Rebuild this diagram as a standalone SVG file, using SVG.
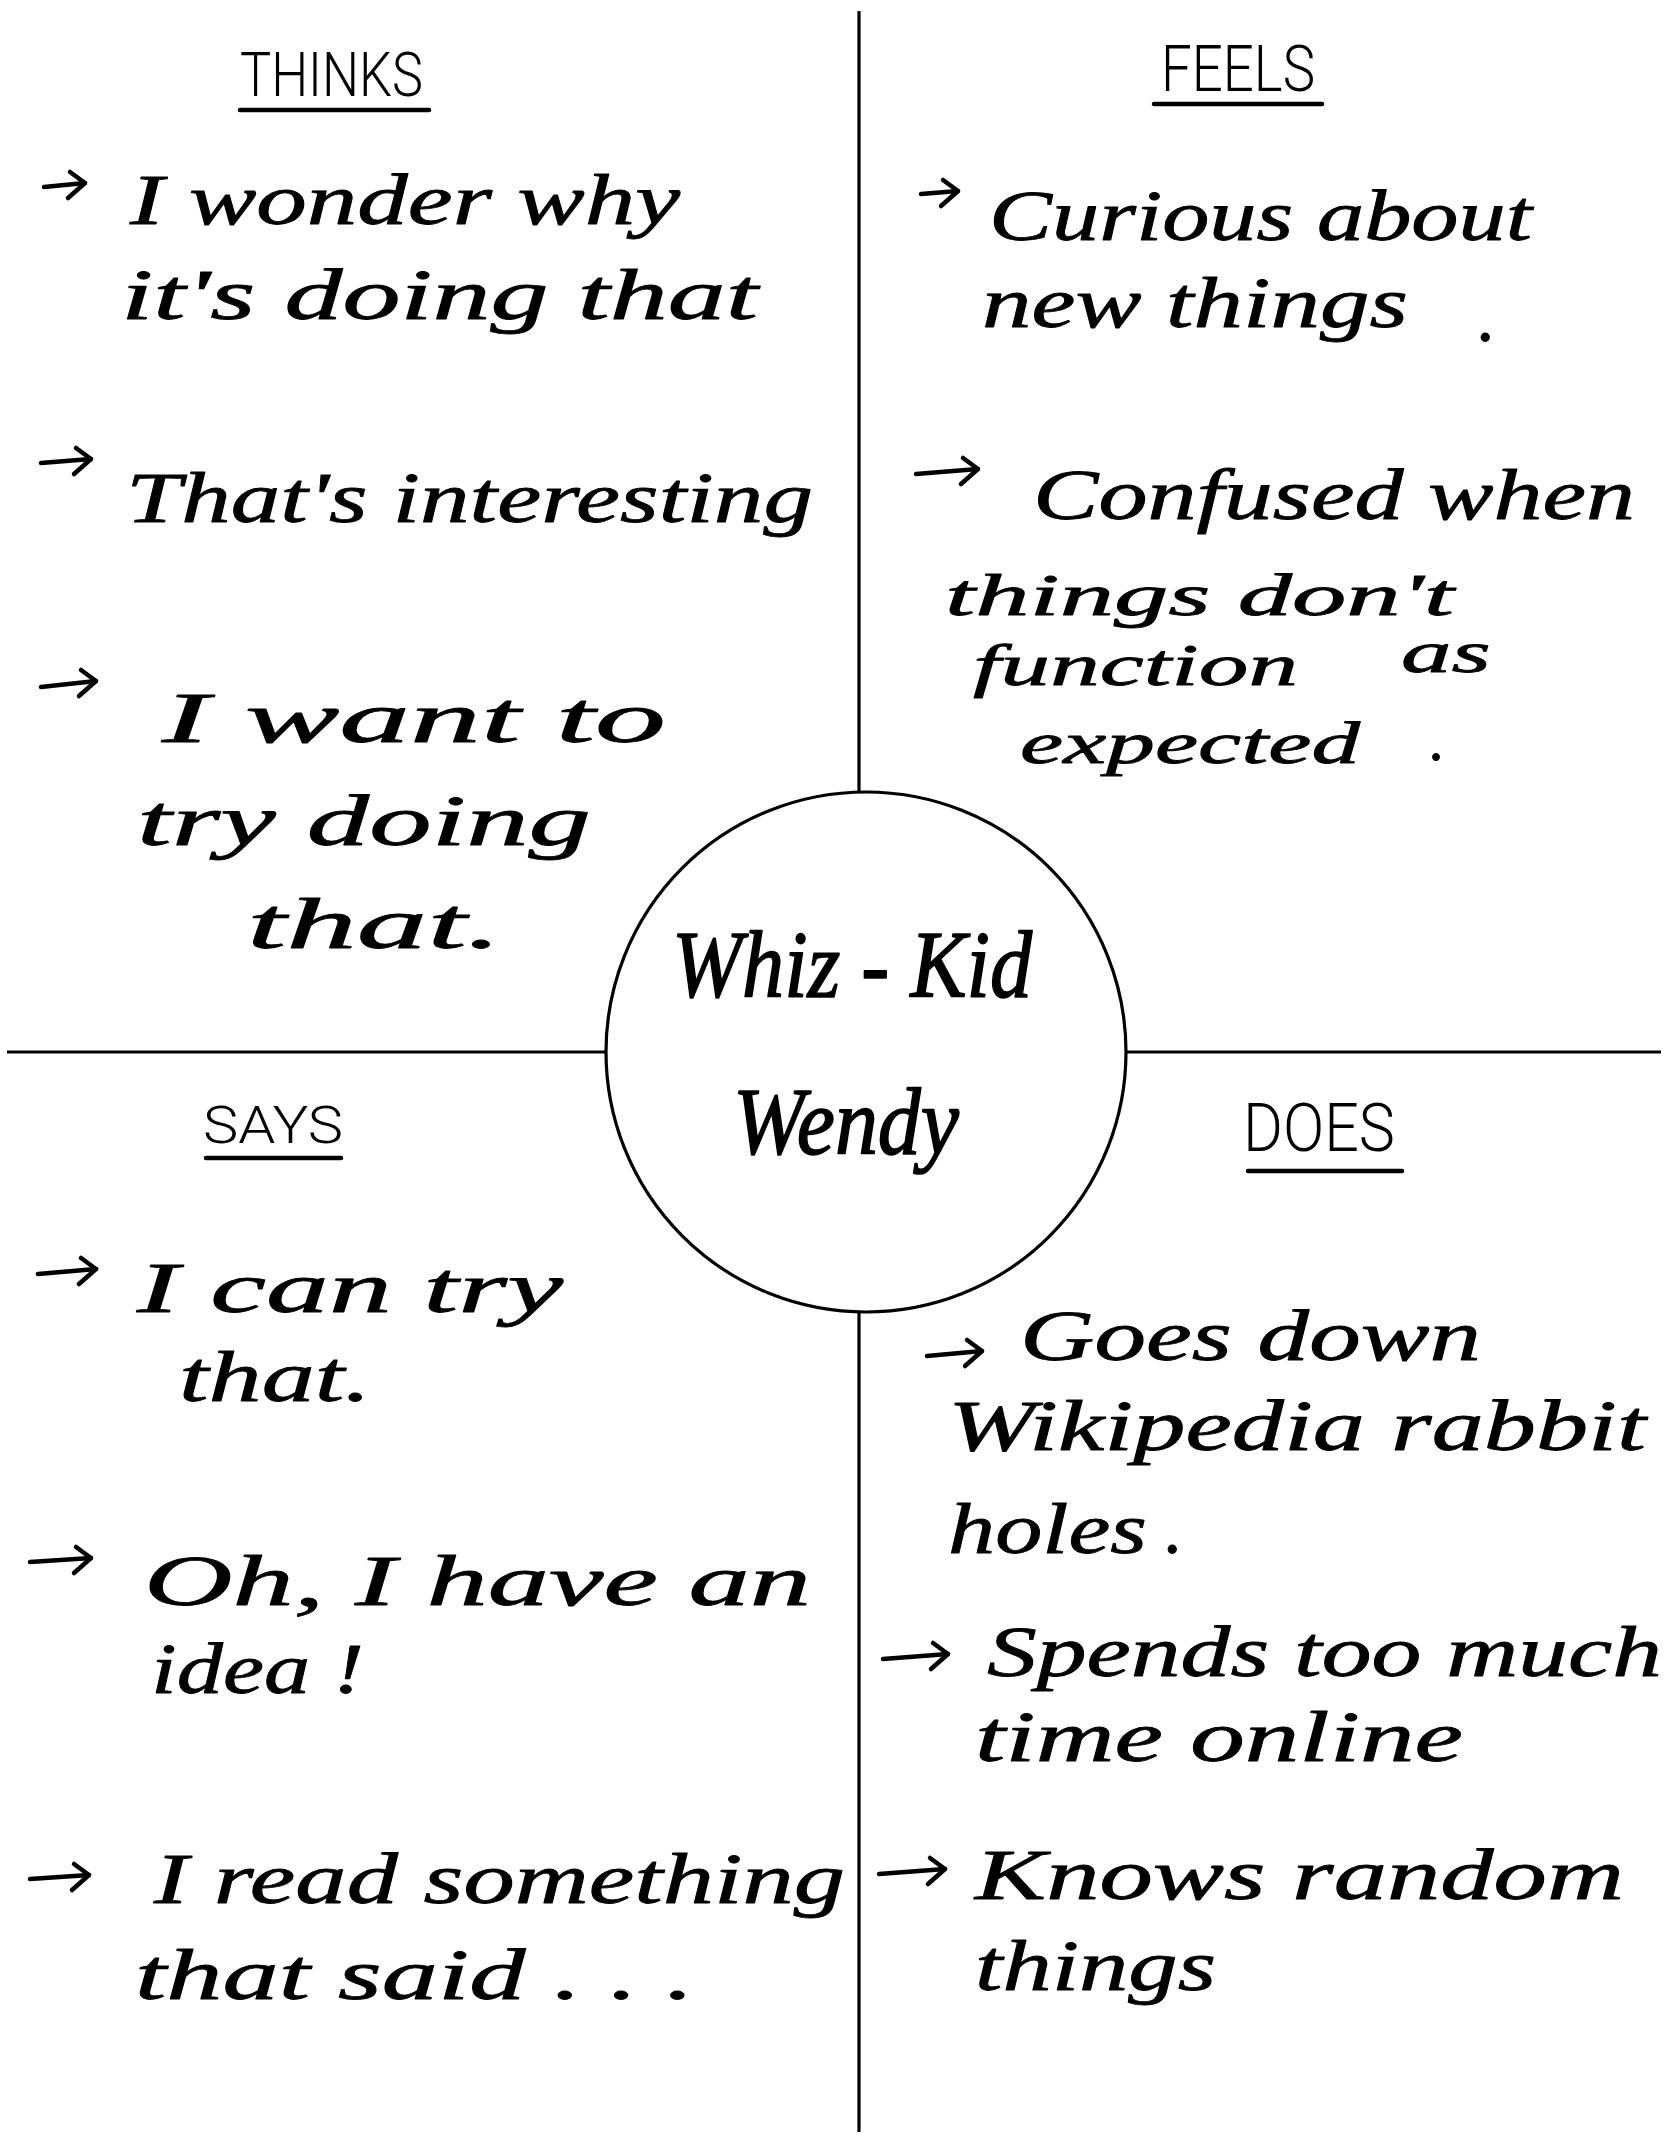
<svg xmlns="http://www.w3.org/2000/svg" width="1668" height="2154" viewBox="0 0 1668 2154">
  <style>
    .hand { font-family: "Liberation Serif", "DejaVu Serif", serif; font-style: italic; font-size: 72px; fill: #000; stroke: #000; stroke-width: 0.8; stroke-linejoin: round; }
    .tight { font-size: 60px; }
    .center { font-size: 96px; stroke-width: 1.6; }
    .head { font-family: Roboto, "DejaVu Sans", sans-serif; font-weight: 300; fill: #000; }
    .rule { stroke: #000; stroke-width: 3.2; fill: none; }
    .uline { stroke: #000; stroke-width: 4.5; stroke-linecap: round; }
    .bullet { stroke: #000; stroke-width: 4.5; fill: none; stroke-linecap: round; stroke-linejoin: round; }
  </style>
  <defs>
    <!-- hand-drawn style bullet arrow head, drawn relative to its tip at (0,0) -->
    <path id="arrowHead" d="M -15 -11 L 0 0 L -17 15"/>
  </defs>

  <rect width="1668" height="2154" fill="#fff"/>

  <!-- quadrant dividers running out from the centre circle -->
  <g id="connectors" class="rule">
    <line x1="859" y1="11" x2="859" y2="792"/>
    <line x1="859" y1="1312" x2="859" y2="2132"/>
    <line x1="7" y1="1052" x2="606" y2="1052"/>
    <line x1="1126" y1="1052" x2="1661" y2="1052"/>
  </g>

  <!-- centre persona -->
  <g id="persona">
    <circle cx="866" cy="1052" r="260" class="rule"/>
    <text class="hand center" x="672" y="997" textLength="360" lengthAdjust="spacingAndGlyphs">Whiz - Kid</text>
    <text class="hand center" x="733" y="1154" textLength="226" lengthAdjust="spacingAndGlyphs">Wendy</text>
  </g>

  <!-- top-left quadrant -->
  <g id="thinks">
    <text class="head" x="240" y="96" font-size="62" textLength="183" lengthAdjust="spacingAndGlyphs">THINKS</text>
    <line class="uline" x1="240" y1="110" x2="429" y2="110"/>
    <g class="bullet">
      <path d="M 44 187 L 85 183"/><use href="#arrowHead" x="85" y="183"/>
      <path d="M 41 463 L 91 459"/><use href="#arrowHead" x="91" y="459"/>
      <path d="M 41 687 L 96 681"/><use href="#arrowHead" x="96" y="681"/>
    </g>
    <text class="hand" x="130" y="224" textLength="550" lengthAdjust="spacingAndGlyphs">I wonder why</text>
    <text class="hand" x="121" y="319" textLength="637" lengthAdjust="spacingAndGlyphs">it's doing that</text>
    <text class="hand" x="126" y="522" textLength="687" lengthAdjust="spacingAndGlyphs">That's interesting</text>
    <text class="hand" x="162" y="742" textLength="504" lengthAdjust="spacingAndGlyphs">I want to</text>
    <text class="hand" x="137" y="845" textLength="454" lengthAdjust="spacingAndGlyphs">try doing</text>
    <text class="hand" x="247" y="948" textLength="255" lengthAdjust="spacingAndGlyphs">that.</text>
  </g>

  <!-- top-right quadrant -->
  <g id="feels">
    <text class="head" x="1161" y="91" font-size="64" textLength="154" lengthAdjust="spacingAndGlyphs">FEELS</text>
    <line class="uline" x1="1154" y1="104" x2="1322" y2="104"/>
    <g class="bullet">
      <path d="M 921 194 L 958 191"/><use href="#arrowHead" x="958" y="191"/>
      <path d="M 916 474 L 978 469"/><use href="#arrowHead" x="978" y="469"/>
    </g>
    <text class="hand" x="989" y="240" textLength="543" lengthAdjust="spacingAndGlyphs">Curious about</text>
    <text class="hand" x="982" y="327" textLength="426" lengthAdjust="spacingAndGlyphs">new things</text>
    <text class="hand" x="1478" y="341">.</text>
    <text class="hand" x="1033" y="519" textLength="602" lengthAdjust="spacingAndGlyphs">Confused when</text>
    <text class="hand tight" x="945" y="615" textLength="509" lengthAdjust="spacingAndGlyphs">things don't</text>
    <text class="hand tight" x="973" y="685" textLength="325" lengthAdjust="spacingAndGlyphs">function</text>
    <text class="hand tight" x="1401" y="672" textLength="90" lengthAdjust="spacingAndGlyphs">as</text>
    <text class="hand tight" x="1020" y="763" textLength="340" lengthAdjust="spacingAndGlyphs">expected</text>
    <text class="hand tight" x="1430" y="760">.</text>
  </g>

  <!-- bottom-left quadrant -->
  <g id="says">
    <text class="head" x="203" y="1143" font-size="52" textLength="140" lengthAdjust="spacingAndGlyphs">SAYS</text>
    <line class="uline" x1="206" y1="1158" x2="341" y2="1158"/>
    <g class="bullet">
      <path d="M 38 1274 L 96 1269"/><use href="#arrowHead" x="96" y="1269"/>
      <path d="M 30 1562 L 91 1558"/><use href="#arrowHead" x="91" y="1558"/>
      <path d="M 30 1879 L 89 1875"/><use href="#arrowHead" x="89" y="1875"/>
    </g>
    <text class="hand" x="137" y="1312" textLength="426" lengthAdjust="spacingAndGlyphs">I can try</text>
    <text class="hand" x="179" y="1401" textLength="192" lengthAdjust="spacingAndGlyphs">that.</text>
    <text class="hand" x="144" y="1605" textLength="667" lengthAdjust="spacingAndGlyphs">Oh, I have an</text>
    <text class="hand" x="151" y="1693" textLength="213" lengthAdjust="spacingAndGlyphs">idea !</text>
    <text class="hand" x="154" y="1903" textLength="691" lengthAdjust="spacingAndGlyphs">I read something</text>
    <text class="hand" x="135" y="1999" textLength="559" lengthAdjust="spacingAndGlyphs">that said . . .</text>
  </g>

  <!-- bottom-right quadrant -->
  <g id="does">
    <text class="head" x="1243" y="1151" font-size="66" textLength="152" lengthAdjust="spacingAndGlyphs">DOES</text>
    <line class="uline" x1="1248" y1="1171" x2="1402" y2="1171"/>
    <g class="bullet">
      <path d="M 927 1356 L 982 1351"/><use href="#arrowHead" x="982" y="1351"/>
      <path d="M 883 1659 L 948 1654"/><use href="#arrowHead" x="948" y="1654"/>
      <path d="M 879 1874 L 945 1869"/><use href="#arrowHead" x="945" y="1869"/>
    </g>
    <text class="hand" x="1020" y="1360" textLength="461" lengthAdjust="spacingAndGlyphs">Goes down</text>
    <text class="hand" x="948" y="1450" textLength="698" lengthAdjust="spacingAndGlyphs">Wikipedia rabbit</text>
    <text class="hand" x="948" y="1553" textLength="199" lengthAdjust="spacingAndGlyphs">holes</text>
    <text class="hand" x="1165" y="1553">.</text>
    <text class="hand" x="987" y="1676" textLength="675" lengthAdjust="spacingAndGlyphs">Spends too much</text>
    <text class="hand" x="975" y="1761" textLength="488" lengthAdjust="spacingAndGlyphs">time online</text>
    <text class="hand" x="975" y="1899" textLength="649" lengthAdjust="spacingAndGlyphs">Knows random</text>
    <text class="hand" x="975" y="1990" textLength="241" lengthAdjust="spacingAndGlyphs">things</text>
  </g>
</svg>
